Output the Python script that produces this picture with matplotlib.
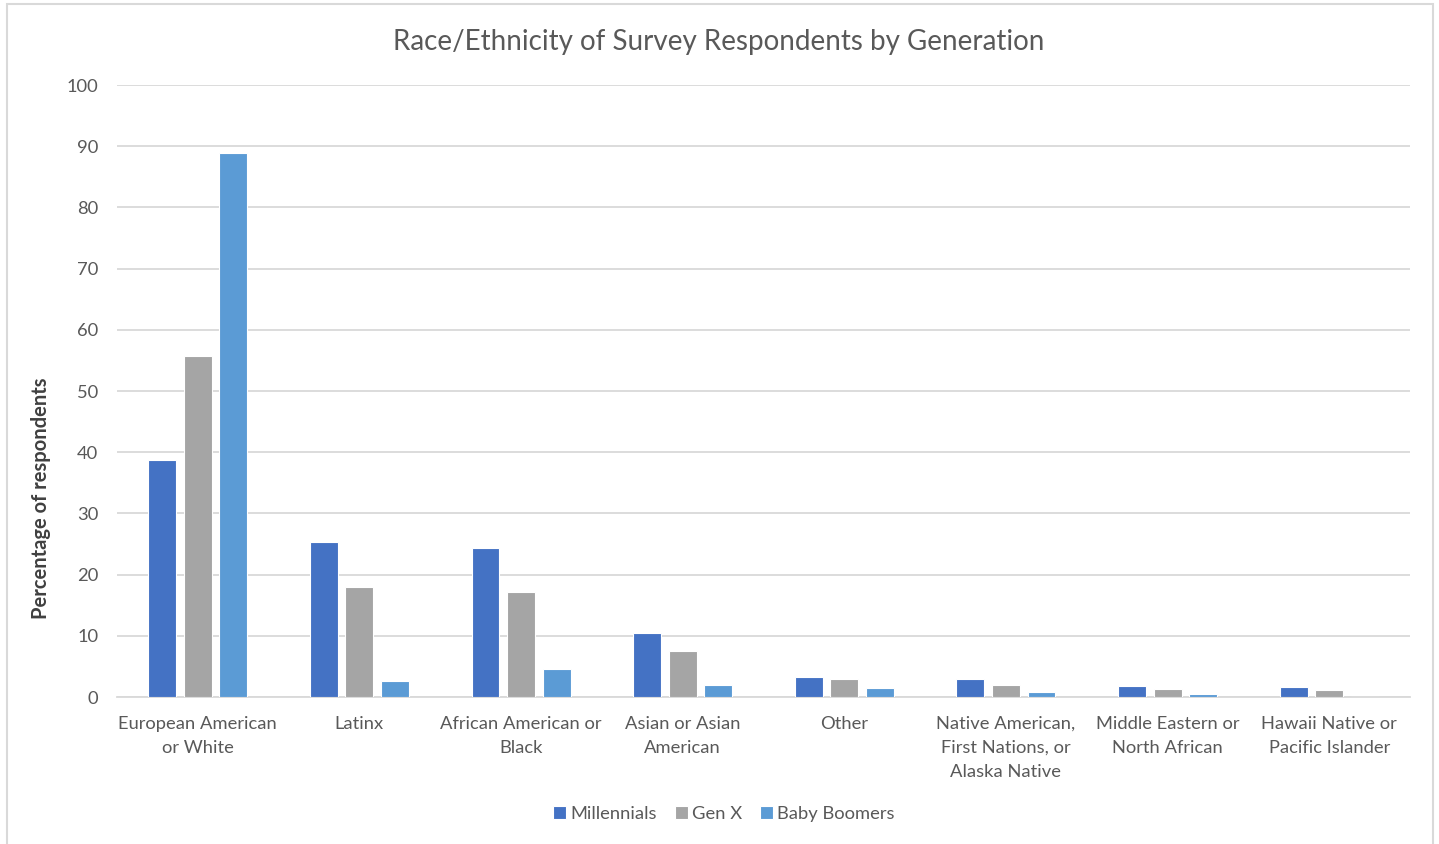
import matplotlib
matplotlib.use("Agg")
import matplotlib.pyplot as plt
from matplotlib.patches import Rectangle
import numpy as np

plt.rcParams['font.family'] = ['Lato', 'DejaVu Sans']

categories = [
    "European American\nor White",
    "Latinx",
    "African American or\nBlack",
    "Asian or Asian\nAmerican",
    "Other",
    "Native American,\nFirst Nations, or\nAlaska Native",
    "Middle Eastern or\nNorth African",
    "Hawaii Native or\nPacific Islander",
]
millennials = [38.8, 25.3, 24.3, 10.5, 3.2, 3.0, 1.8, 1.6]
gen_x = [55.7, 18.0, 17.1, 7.5, 3.0, 2.0, 1.3, 1.1]
baby_boomers = [88.9, 2.6, 4.6, 2.0, 1.4, 0.8, 0.45, 0.0]
series_names = ["Millennials", "Gen X", "Baby Boomers"]
colors = ["#4472C4", "#A5A5A5", "#5B9BD5"]

W, H = 1439, 844
fig = plt.figure(figsize=(W / 100, H / 100), dpi=100)
ax = fig.add_axes([117 / W, 1 - 697 / H, (1410 - 117) / W, (697 - 85) / H])

text_color = "#595959"
x = np.arange(len(categories))
pitch = 0.22
width = 0.173
for i, (vals, name, c) in enumerate(zip([millennials, gen_x, baby_boomers], series_names, colors)):
    ax.bar(x + (i - 1) * pitch, vals, width=width, color=c, edgecolor="white",
           linewidth=0.8, label=name, zorder=3)

ax.set_xlim(-0.5, len(categories) - 0.5)
ax.set_ylim(0, 100)
ax.set_yticks(range(0, 101, 10))
ax.yaxis.grid(True, color="#D9D9D9", linewidth=1.3, zorder=0)
ax.set_axisbelow(True)
for s in ["top", "right", "left"]:
    ax.spines[s].set_visible(False)
ax.spines["bottom"].set_color("#D9D9D9")
ax.spines["bottom"].set_linewidth(1.3)
ax.tick_params(axis="both", length=0, labelsize=13.2, colors=text_color)
ax.tick_params(axis="y", pad=13.5)
ax.tick_params(axis="x", pad=13.5)
ax.set_xticks(x)
ax.set_xticklabels(categories, linespacing=1.62)

fig.text(719 / W, 1 - 42 / H, "Race/Ethnicity of Survey Respondents by Generation",
         ha="center", va="center", fontsize=20, color=text_color)
fig.text(41 / W, 1 - 498 / H, "Percentage of respondents", rotation=90,
         ha="center", va="center", fontsize=14.5, fontweight="bold", color="#404040")

leg = fig.legend(loc="center", bbox_to_anchor=(724 / W, 1 - 814 / H), ncol=3,
                 frameon=False, fontsize=13.2, handlelength=0.7, handleheight=0.7,
                 handletextpad=0.25, columnspacing=0.95)
for t in leg.get_texts():
    t.set_color(text_color)

fig.patches.append(Rectangle((7 / W, -0.01), (1433 - 7) / W, 1 - 4 / H + 0.01,
                             transform=fig.transFigure, fill=False,
                             edgecolor="#D9D9D9", linewidth=1.5))

fig.savefig("out.png", dpi=100)
